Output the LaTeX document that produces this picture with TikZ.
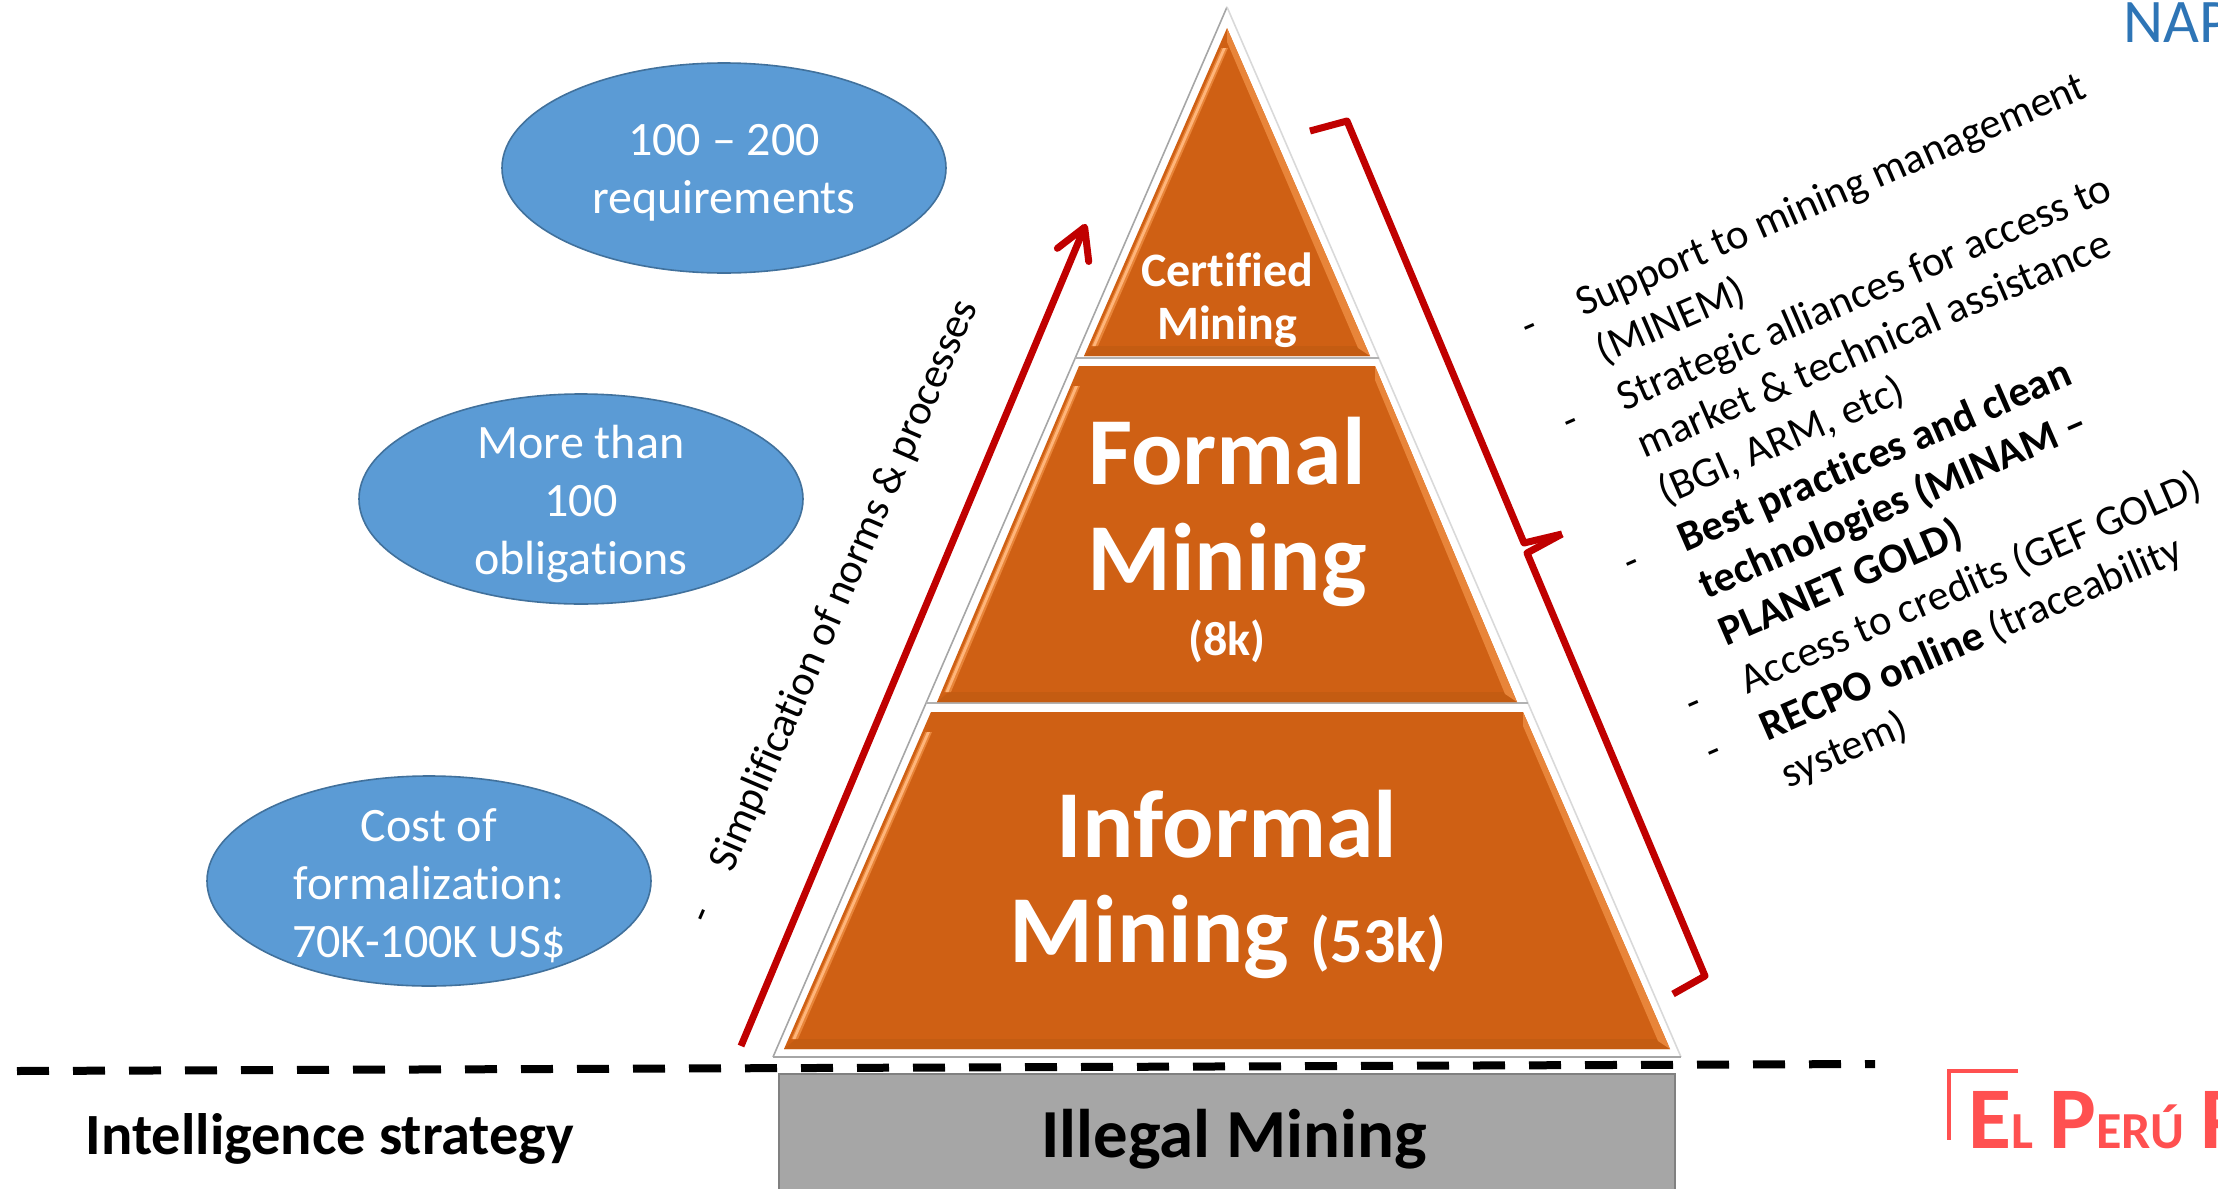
\documentclass[tikz,border=0pt]{standalone}
\usepackage{fontspec}
\setmainfont[Ligatures=NoCommon]{Carlito}
\usetikzlibrary{arrows.meta,shapes.geometric}
\definecolor{orangebase}{HTML}{CF6014}
\definecolor{orangelight}{HTML}{FFB57A}
\definecolor{orangemid}{HTML}{E8853A}
\definecolor{orangedark}{HTML}{C45C12}
\definecolor{bluefill}{HTML}{5B9BD5}
\definecolor{blueline}{HTML}{41719C}
\definecolor{napblue}{HTML}{2E75B6}
\definecolor{redline}{HTML}{C00000}
\definecolor{logored}{HTML}{FF5050}
\newcommand{\fs}[2]{\fontsize{#1pt}{#2pt}\selectfont}
\tikzset{
  costbubble/.style={ellipse, draw=blueline, line width=0.8pt, fill=bluefill,
    minimum width=222pt, minimum height=105pt, inner sep=0pt},
  bubbletext/.style={text=white, inner sep=0pt, align=center, yshift=-2.3pt, font=\fs{24}{29}},
  tierlabel/.style={text=white, inner sep=0pt, align=center, font=\fs{48}{53}\bfseries},
  redstroke/.style={draw=redline, line width=3.5pt},
  blacklabel/.style={inner sep=0pt, font=\fs{34.4}{40}\bfseries},
}
\begin{document}
\begin{tikzpicture}[x=0.5pt, y=-0.5pt]
\useasboundingbox (0,0) rectangle (2218,1189);
\clip (0,0) rectangle (2218,1189);
% frame of the pyramid
\draw[gray!70, line width=0.8pt] (773,1057)--(1227,7);
\draw[gray!30, line width=0.8pt] (1227,7)--(1681,1057);
\draw[gray!70, line width=1pt] (773,1057)--(1681,1057);
\draw[gray!60, line width=1pt] (1075,358)--(1379,358);
\draw[gray!60, line width=1pt] (926,703)--(1528,703);
% the three tiers
\foreach \ya/\wa/\yb/\wb in {28/0/356/143, 366/148/702/290, 712/296/1049/443} {
  \fill[orangebase] (1227-\wa,\ya)--(1227+\wa,\ya)--(1227+\wb,\yb)--(1227-\wb,\yb)--cycle;
  \fill[orangedark] (1227-\wb+12,\yb-10)--(1227+\wb-12,\yb-10)--(1227+\wb,\yb)--(1227-\wb,\yb)--cycle;
  \fill[orangemid] (1227-\wa-5.7,\ya+20)--(1227-\wa+1,\ya+20)--(1227-\wb+14,\yb-10)--(1227-\wb+7.3,\yb-10)--cycle;
  \fill[orangelight] (1227-\wa-4,\ya+20)--(1227-\wa-1,\ya+20)--(1227-\wb+11.5,\yb-10)--(1227-\wb+8.5,\yb-10)--cycle;
  \fill[orangemid] (1227+\wa,\ya)--(1227+\wa,\ya+14)--(1227+\wb-12,\yb-8)--(1227+\wb,\yb)--cycle;
}
\node[tierlabel, font=\fs{24}{26.5}\bfseries] (certified) at (1227,300) {Certified\\Mining};
\node[tierlabel] (formal) at (1227,512) {Formal\\Mining};
\node[tierlabel, font=\fs{24}{26}\bfseries] (eightk) at (1227,641) {(8k)};
\node[tierlabel] (informal) at (1227,824) {Informal};
\node[tierlabel] (informalb) at (1228,937) {Mining \fs{32}{36}(53k)};
% illegal base
\fill[fill=gray!70!white] (779,1074) rectangle (1675,1195);
\draw[draw=gray, line width=1pt] (779,1195)--(779,1074)--(1675,1074)--(1675,1195);
\node[blacklabel] (illegal) at (1234,1139) {Illegal Mining};
\node[blacklabel, font=\fs{29.2}{34}\bfseries] (intel) at (330,1139) {Intelligence strategy};
\draw[line width=4pt, dash pattern=on 16pt off 12pt] (17,1071)--(1875,1064);
% bubbles
\node[costbubble, label={[bubbletext]center:{100 -- 200\\requirements}}] (reqs) at (724,168) {};
\node[costbubble, label={[bubbletext]center:{More than\\100\\obligations}}] (oblig) at (581,499) {};
\node[costbubble, label={[bubbletext]center:{Cost of\\formalization:\\70K-100K US\$}}] (cost) at (429,881) {};
% arrow and brace
\coordinate (arrowstart) at (741,1046);
\coordinate (arrowtip) at (1086,224);
\draw[redstroke, -{Straight Barb[length=15pt,width=17pt,line width=3.5pt,round]}] (arrowstart)--(arrowtip);
\draw[redstroke, line join=round] (1310,131)--(1347,121)--(1524,543)--(1562,534);
\draw[redstroke, line join=round] (1562,534)--(1527,553)--(1705,976)--(1673,994);
% rotated texts
\node[rotate=66.6, anchor=base west, inner sep=0pt, font=\fs{21.3}{25}] (simpl) at (710,926)
  {-\hspace{22pt}Simplification of norms \& processes};
\node[rotate=23.5, anchor=base west, inner sep=0pt, font=\fs{21.3}{25.7}] (actions) at (1528,341) {%
  \begin{tabular}[t]{@{}p{30pt}@{}l@{}}
  - & Support to mining management\\
    & (MINEM)\\
  - & Strategic alliances for access to\\
    & market \& technical assistance\\
    & (BGI, ARM, etc)\\
  - & \textbf{Best practices and clean}\\
    & \textbf{technologies (MINAM --}\\
    & \textbf{PLANET GOLD)}\\
  - & Access to credits (GEF GOLD)\\
  - & \textbf{RECPO online} (traceability\\
    & system)
  \end{tabular}};
% corner marks
\node[anchor=base west, inner sep=0pt, text=napblue, font=\fs{31}{36}] (nap) at (2123,42) {NAP};
\draw[logored, line width=1.8pt] (2018,1071)--(1949,1071)--(1949,1140);
\node[anchor=base west, inner sep=0pt, text=logored, font=\bfseries\fs{44}{48}] (logo) at (1968,1148)
  {E\fs{26}{30}L\hspace{8pt}\fs{44}{48}P\fs{26}{30}ERÚ\hspace{8pt}\fs{44}{48}P};
\end{tikzpicture}
\end{document}
